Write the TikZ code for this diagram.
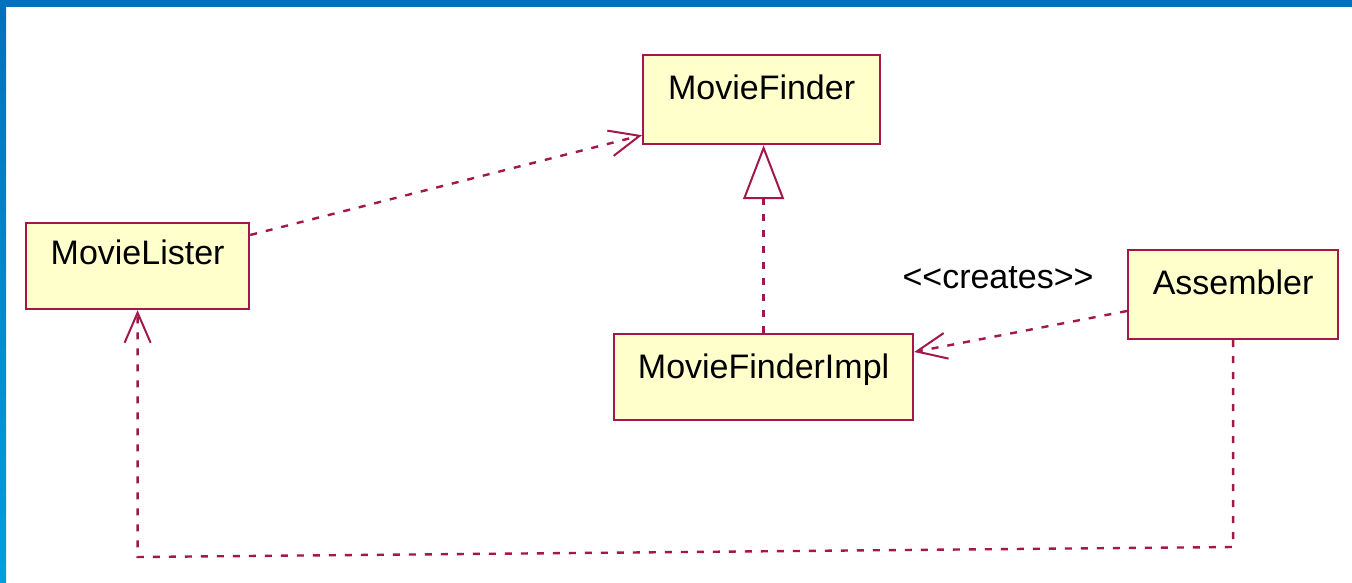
\documentclass[tikz,border=0pt]{standalone}
\usepackage{fontspec}
\setmainfont{Liberation Sans}
\usetikzlibrary{arrows.meta}
\definecolor{umlred}{HTML}{A3174B}
\definecolor{umlfill}{HTML}{FFFFCC}
\definecolor{barblue}{HTML}{0070C0}
\definecolor{barcyan}{HTML}{00A0E0}
\begin{document}
\begin{tikzpicture}[x=1pt,y=-1pt,
 cls/.style={draw=umlred, fill=umlfill, line width=2.2pt, inner sep=0pt,
   font=\fontsize{34}{40}\selectfont, anchor=north west},
 lbl/.style={font=\fontsize{34}{40}\selectfont, inner sep=0pt},
 dep/.style={draw=umlred, line width=2.4pt, dash pattern=on 7pt off 9pt,
   -{Straight Barb[length=30pt,width=26pt,line width=2pt]}},
 real/.style={draw=umlred, line width=2.4pt, dash pattern=on 7pt off 9pt,
   -{Triangle[open,length=54pt,width=41pt,fill=white,line width=2pt]}},
]
\useasboundingbox (0,0) rectangle (1352,583);
\fill[white] (0,0) rectangle (1352,583);
\shade[top color=barblue,bottom color=barcyan] (0,0) rectangle (6,583);
\fill[barblue] (0,0) rectangle (1352,7);

\node[cls, minimum width=237pt, text height=44pt, text depth=45pt] (finder) at (642,54) {MovieFinder};
\node[cls, minimum width=223pt, text height=41pt, text depth=45pt] (lister) at (25,222) {MovieLister};
\node[cls, minimum width=299pt, text height=44pt, text depth=42pt] (impl) at (613,333) {MovieFinderImpl};
\node[cls, minimum width=210pt, text height=44pt, text depth=45pt] (asm) at (1127,249) {Assembler};
\node[lbl, anchor=base] (creates) at (998,288) {<\kern0pt<creates>\kern0pt>};

\coordinate (l1) at ([yshift=-13pt]lister.north east);
\coordinate (f1) at ([yshift=10pt]finder.south west);
\draw[dep] (l1) -- (f1);

\draw[real] (impl.north) -- (impl.north |- finder.south);

\coordinate (a1) at ([yshift=-62pt]asm.north west);
\coordinate (i2) at ([yshift=-19pt]impl.north east);
\draw[dep] (a1) -- (i2);

\coordinate (c1) at (asm.south |- 0,547);
\coordinate (c2) at (lister.south |- 0,557);
\draw[dep] (asm.south) -- (c1) -- (c2) -- (lister.south);
\end{tikzpicture}
\end{document}
